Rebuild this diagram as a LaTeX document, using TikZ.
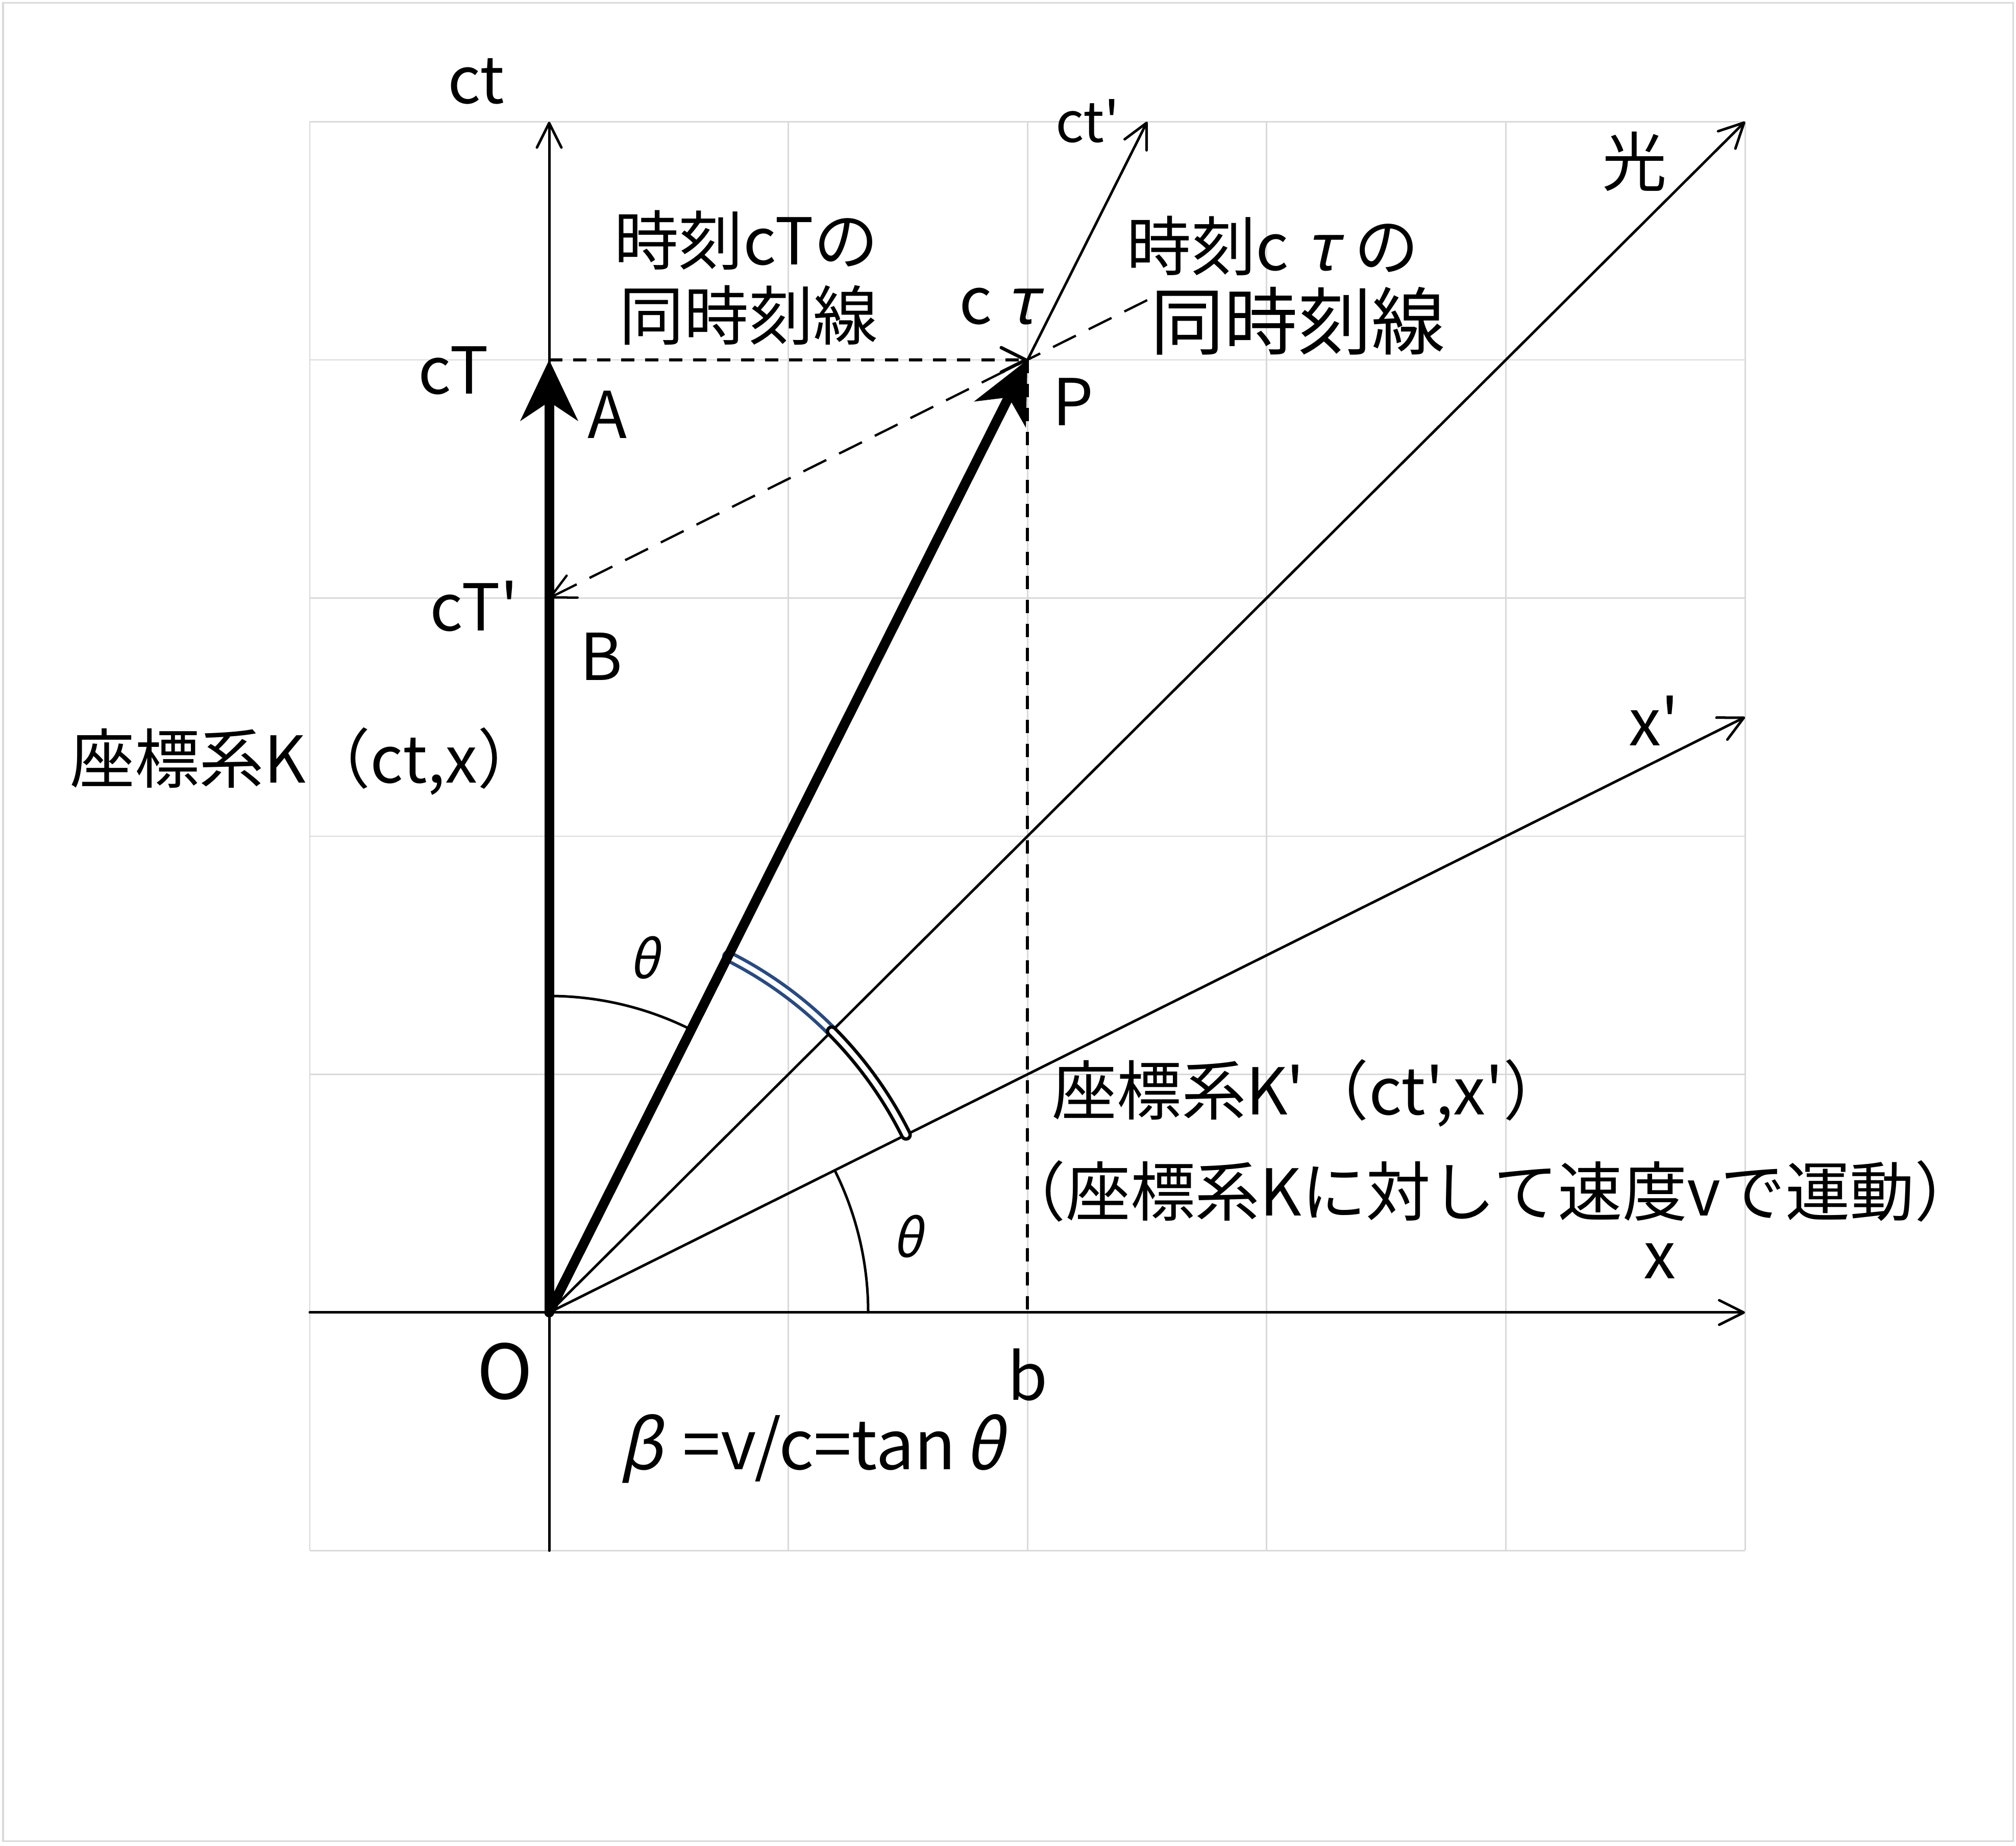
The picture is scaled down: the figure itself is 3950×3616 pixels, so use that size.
\documentclass[tikz,border=0pt]{standalone}
\usepackage{fontspec}
\setmainfont{Noto Sans CJK JP}[Ligatures=TeXOff]
\newfontfamily\grk[FakeSlant=0.22]{Noto Sans CJK JP}
\usetikzlibrary{arrows.meta}
\definecolor{gridgray}{RGB}{217,217,217}
\definecolor{arcblue}{RGB}{42,74,127}
\tikzset{
  gridline/.style={draw=gridgray, line width=0.028cm},
  axisline/.style={line width=0.05cm, line cap=round, line join=round},
  openhead/.style={-{Straight Barb[length=0.48cm,width=0.48cm,round]}},
  thickvec/.style={line width=0.19cm, line cap=round, -{Stealth[length=1.2cm,width=1.14cm,inset=0.38cm,line width=0pt]}},
  shortdash/.style={line width=0.065cm, dash pattern=on 0.26cm off 0.21cm},
  longdash/.style={line width=0.045cm, dash pattern=on 0.5cm off 0.28cm},
  dblarc/.style={line width=0.065cm, double=white, double distance=0.10cm, line cap=round},
  lbl/.style={inner sep=0pt, font=\fontsize{36}{40}\selectfont},
  betalbl/.style={inner sep=0pt, font=\fontsize{38}{42}\selectfont},
  biglbl/.style={inner sep=0pt, font=\fontsize{41}{46}\selectfont},
  smalllbl/.style={inner sep=0pt, font=\fontsize{31}{36}\selectfont},
  bigO/.style={inner sep=0pt, font=\fontsize{42}{46}\selectfont},
  thetalbl/.style={inner sep=0pt, font=\fontsize{29}{32}\grk},
}
\begin{document}
\begin{tikzpicture}[x=0.01cm,y=0.01cm]
\useasboundingbox (0,0) rectangle (3950,3616);
\draw[draw=gridgray, line width=0.03cm] (6,9) rectangle (3944,3610);
% grid
\foreach \i in {0,...,6} {
  \draw[gridline] ({607+\i*468.7},578.5) -- ({607+\i*468.7},3377.5);
  \draw[gridline] (607,{578.5+\i*466.5}) -- (3419,{578.5+\i*466.5});
}
% points
\coordinate (O) at (1076,1045);
\coordinate (A) at (1076,2911);
\coordinate (B) at (1076,2444.5);
\coordinate (P) at (2013,2911);
\coordinate (Pb) at (2013,1045);
\coordinate (ctTop) at (1076,3377.5);
\coordinate (ctBot) at (1076,578.5);
\coordinate (xL) at (607,1045);
\coordinate (xR) at (3419,1045);
\coordinate (lightEnd) at (3419,3377.5);
\coordinate (ctpEnd) at (2247.7,3377.5);
\coordinate (xpEnd) at (3419,2211.25);
\coordinate (simEnd) at (2247.7,3028);
% axes
\draw[axisline, openhead] (ctBot) -- (ctTop);
\draw[axisline, openhead] (xL) -- (xR);
\draw[axisline, openhead] (O) -- (lightEnd);
\draw[axisline, openhead] (O) -- (ctpEnd);
\draw[axisline, openhead] (O) -- (xpEnd);
% dashed lines
\draw[shortdash, openhead] (A) -- (P);
\draw[shortdash] (P) -- (Pb);
\draw[longdash, openhead] (simEnd) -- (B);
% angle arcs
\begin{scope}[shift={(O)}]
  \draw[axisline] (90:620) arc[start angle=90, end angle=63.34, radius=620];
  \draw[axisline] (0:625) arc[start angle=0, end angle=26.46, radius=625];
  \draw[dblarc, draw=arcblue] (63.34:781) arc[start angle=63.34, end angle=44.87, radius=781];
  \draw[dblarc, draw=black] (44.87:781) arc[start angle=44.87, end angle=26.46, radius=781];
\end{scope}
% thick vectors
\draw[thickvec] (O) -- (A);
\draw[thickvec] (O) -- (P);
% labels
\node[lbl] (lct) at (933,3457) {ct};
\node[smalllbl] (lctp) at (2131,3379) {ct'};
\node[lbl] (llight) at (3203,3300) {光};
\node[lbl] (lsimA1) at (1462,3145) {時刻cTの};
\node[lbl] (lsimA2) at (1467,2998) {同時刻線};
\node[lbl] (lctau) at (1957,3016) {c\hspace{0.2em}{\grk τ}};
\node[lbl] (lsimP1) at (2494,3134) {時刻c\hspace{0.25em}{\grk τ}\hspace{0.25em}の};
\node[biglbl] (lsimP2) at (2543,2987) {同時刻線};
\node[lbl] (lcT) at (888,2890) {cT};
\node[lbl] (lA) at (1190,2804) {A};
\node[lbl] (lP) at (2103,2829) {P};
\node[lbl] (lcTp) at (929,2428) {cT'};
\node[lbl] (lB) at (1178,2330) {B};
\node[lbl] (lK) at (600,2125) {座標系K（ct,x）};
\node[lbl] (lxp) at (3241,2204) {x'};
\node[lbl] (lKp) at (2567,1475) {座標系K'（ct',x'）};
\node[lbl] (lKp2) at (2920,1283) {（座標系Kに対して速度vで運動）};
\node[lbl] (lx) at (3252,1146) {x};
\node[thetalbl] (lth1) at (1261,1740) {θ};
\node[thetalbl] (lth2) at (1777,1194) {θ};
\node[bigO] (lO) at (989,930) {O};
\node[lbl] (lb) at (2014,923) {b};
\node[betalbl] (lbeta) at (1590,778) {{\grk β}\hspace{0.3em}=v/c=tan\hspace{0.12em}{\grk θ}};
\end{tikzpicture}
\end{document}
